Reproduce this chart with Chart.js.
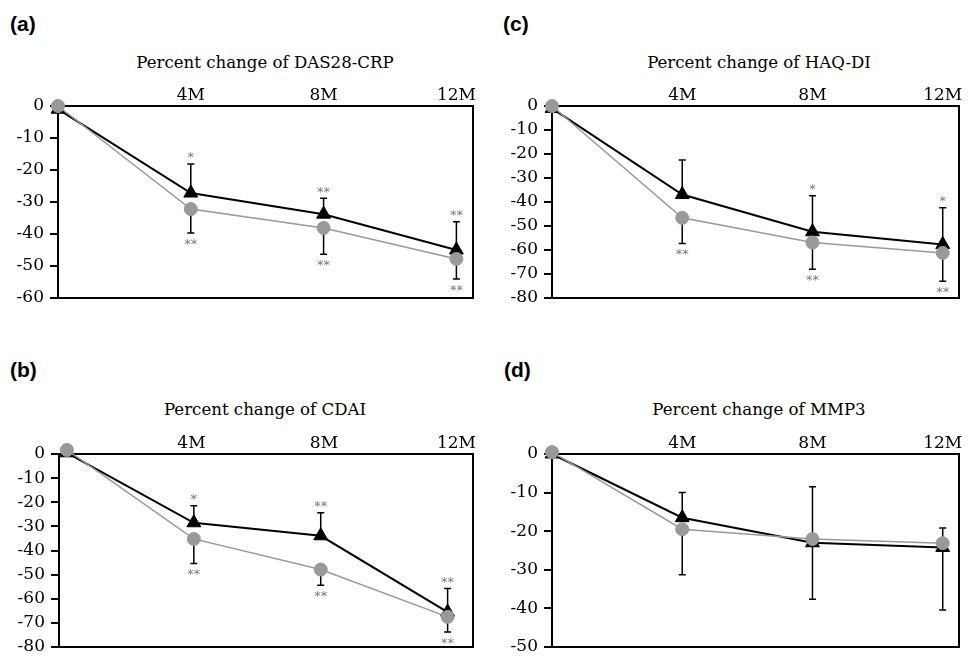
<!DOCTYPE html>
<html>
<head>
<meta charset="utf-8">
<script src="https://cdn.jsdelivr.net/npm/chart.js@4.4.1/dist/chart.umd.min.js"></script>
<style>
  html, body { margin: 0; padding: 0; background: #fff; }
  body { width: 968px; height: 656px; position: relative; overflow: hidden; }
  canvas { position: absolute; }
  .plabel { position: absolute; font-family: "Liberation Sans", Arial, sans-serif; font-weight: bold; font-size: 21px; line-height: 21px; color: #000; }
  .ptitle { position: absolute; width: 400px; text-align: center; font-family: "DejaVu Serif", serif; font-size: 16.6px; line-height: 20px; color: #000; white-space: nowrap; }
</style>
</head>
<body>
<div class="plabel" style="left:10px;top:13px;">(a)</div>
<div class="plabel" style="left:503px;top:13px;">(c)</div>
<div class="plabel" style="left:10px;top:359px;">(b)</div>
<div class="plabel" style="left:504px;top:359px;">(d)</div>
<div class="ptitle" style="left:65px;top:53px;">Percent change of DAS28-CRP</div>
<div class="ptitle" style="left:559px;top:53px;">Percent change of HAQ-DI</div>
<div class="ptitle" style="left:65px;top:400px;">Percent change of CDAI</div>
<div class="ptitle" style="left:559px;top:400px;">Percent change of MMP3</div>
<canvas id="ca" width="484" height="328" style="left:0;top:0;"></canvas>
<canvas id="cc" width="484" height="328" style="left:484px;top:0;"></canvas>
<canvas id="cb" width="484" height="328" style="left:0;top:328px;"></canvas>
<canvas id="cd" width="484" height="328" style="left:484px;top:328px;"></canvas>
<script>
// ---------- data ----------
const months = [0, 4, 8, 12];
const xTickValues = [4, 8, 12];
const xTickLabels = ['4M', '8M', '12M'];

// (a) DAS28-CRP
const dasBlack = [-1, -27.2, -33.8, -45.0];
const dasBlackSD = [0, 9.1, 5.0, 8.8];
const dasGrey = [0, -32.2, -38.1, -47.8];
const dasGreySD = [0, 7.5, 8.2, 6.3];
const dasBlackStars = ['', '*', '**', '**'];
const dasGreyStars = ['', '**', '**', '**'];
const dasYMin = -60;

// (b) CDAI
const cdaiBlack = [0.5, -28.5, -33.9, -65.5];
const cdaiBlackSD = [0, 7.0, 9.5, 9.7];
const cdaiGrey = [1.7, -35.2, -47.9, -67.5];
const cdaiGreySD = [0, 10.2, 6.5, 6.3];
const cdaiBlackStars = ['', '*', '**', '**'];
const cdaiGreyStars = ['', '**', '**', '**'];
const cdaiYMin = -80;

// (c) HAQ-DI
const haqBlack = [-1, -36.9, -52.4, -57.7];
const haqBlackSD = [0, 14.4, 15.0, 15.3];
const haqGrey = [0, -46.6, -56.9, -61.2];
const haqGreySD = [0, 10.7, 11.1, 11.8];
const haqBlackStars = ['', '', '*', '*'];
const haqGreyStars = ['', '**', '**', '**'];
const haqYMin = -80;

// (d) MMP3
const mmpBlack = [0, -16.5, -23.0, -24.2];
const mmpBlackSD = [0, 6.5, 14.5, 5.0];
const mmpGrey = [0.5, -19.5, -22.0, -23.1];
const mmpGreySD = [0, 11.8, 15.6, 17.3];
const mmpBlackStars = ['', '', '', ''];
const mmpGreyStars = ['', '', '', ''];
const mmpYMin = -50;

// ---------- styling ----------
const GREY = '#999999';
const STAR = '#777777';
const SERIF = '"DejaVu Serif", serif';

const boxErrPlugin = {
  id: 'boxErr',
  beforeDatasetsDraw(chart) {
    const ctx = chart.ctx, a = chart.chartArea;
    ctx.save();
    ctx.strokeStyle = '#000';
    ctx.lineWidth = 2;
    ctx.strokeRect(a.left, a.top, a.right - a.left, a.bottom - a.top);
    const xs = chart.scales.x, ys = chart.scales.y;
    ctx.lineWidth = 1.5;
    chart.data.datasets.forEach(ds => {
      ds.data.forEach((p, j) => {
        const sd = ds.sd[j];
        if (!sd) return;
        const x = xs.getPixelForValue(p.x);
        const y0 = ys.getPixelForValue(p.y);
        const y1 = ys.getPixelForValue(p.y + ds.dir * sd);
        ctx.beginPath();
        ctx.moveTo(x, y0); ctx.lineTo(x, y1);
        ctx.moveTo(x - 3.5, y1); ctx.lineTo(x + 3.5, y1);
        ctx.stroke();
      });
    });
    ctx.restore();
  },
  afterDatasetsDraw(chart) {
    const ctx = chart.ctx;
    const xs = chart.scales.x, ys = chart.scales.y;
    ctx.save();
    ctx.fillStyle = STAR;
    ctx.font = '13px "DejaVu Sans", sans-serif';
    ctx.textAlign = 'center';
    ctx.textBaseline = 'alphabetic';
    chart.data.datasets.forEach(ds => {
      ds.data.forEach((p, j) => {
        const s = ds.stars[j];
        if (!s) return;
        const x = xs.getPixelForValue(p.x);
        const yEnd = ys.getPixelForValue(p.y + ds.dir * (ds.sd[j] || 0));
        const yc = yEnd - ds.dir * 8.5;
        const m = ctx.measureText(s);
        ctx.fillText(s, x, yc + (m.actualBoundingBoxAscent - m.actualBoundingBoxDescent) / 2);
      });
    });
    ctx.restore();
  }
};

function pts(vals) { return months.map((m, i) => ({ x: m, y: vals[i] })); }

function makeChart(id, p) {
  return new Chart(document.getElementById(id), {
    type: 'line',
    data: {
      datasets: [
        {
          data: pts(p.grey), sd: p.greySD, stars: p.greyStars, dir: -1,
          borderColor: GREY, backgroundColor: GREY, borderWidth: 1.5,
          pointStyle: 'circle', pointRadius: 6.5, pointBorderWidth: 1,
          pointBorderColor: GREY, pointBackgroundColor: GREY,
          xAxisID: 'x', yAxisID: 'y', clip: false, tension: 0
        },
        {
          data: pts(p.black), sd: p.blackSD, stars: p.blackStars, dir: 1,
          borderColor: '#000', backgroundColor: '#000', borderWidth: 2,
          pointStyle: 'triangle', pointRadius: 8, pointBorderWidth: 1,
          pointBorderColor: '#000', pointBackgroundColor: '#000',
          xAxisID: 'x', yAxisID: 'y', clip: false, tension: 0
        }
      ]
    },
    options: {
      responsive: false,
      animation: false,
      events: [],
      layout: { padding: { left: 0, right: 484 - p.right, top: p.top - 20, bottom: 328 - p.bottom } },
      plugins: { legend: { display: false }, tooltip: { enabled: false }, title: { display: false } },
      scales: {
        x: { type: 'linear', display: false, min: p.xMin, max: p.xMax },
        xl: {
          type: 'linear', axis: 'x', position: 'top', min: 0, max: 12.5,
          afterBuildTicks: s => { s.ticks = xTickValues.map(v => ({ value: v })); },
          afterFit: s => { s.height = 20; s.paddingLeft = 0; s.paddingRight = 0; },
          grid: { display: false, drawTicks: false },
          border: { display: false },
          ticks: {
            padding: 0, color: '#000', maxRotation: 0, autoSkip: false,
            font: { family: SERIF, size: 17 },
            callback: (v, i) => xTickLabels[i]
          }
        },
        y: {
          type: 'linear', position: 'left', min: p.yMin, max: 0,
          afterFit: s => { s.width = p.left; s.paddingTop = 0; s.paddingBottom = 0; },
          grid: { drawOnChartArea: false, drawTicks: true, tickLength: 8, color: '#000', lineWidth: 2 },
          border: { display: false },
          ticks: { stepSize: 10, padding: 6, color: '#000', font: { family: SERIF, size: 17 } }
        }
      }
    },
    plugins: [boxErrPlugin]
  });
}

makeChart('ca', { black: dasBlack, blackSD: dasBlackSD, grey: dasGrey, greySD: dasGreySD,
  blackStars: dasBlackStars, greyStars: dasGreyStars, yMin: dasYMin, xMin: 0, xMax: 12.5,
  left: 58, right: 473, top: 106, bottom: 298 });
makeChart('cc', { black: haqBlack, blackSD: haqBlackSD, grey: haqGrey, greySD: haqGreySD,
  blackStars: haqBlackStars, greyStars: haqGreyStars, yMin: haqYMin, xMin: 0, xMax: 12.5,
  left: 68, right: 482, top: 106, bottom: 298 });
makeChart('cb', { black: cdaiBlack, blackSD: cdaiBlackSD, grey: cdaiGrey, greySD: cdaiGreySD,
  blackStars: cdaiBlackStars, greyStars: cdaiGreyStars, yMin: cdaiYMin, xMin: -0.25, xMax: 12.8,
  left: 59, right: 473, top: 126, bottom: 319 });
makeChart('cd', { black: mmpBlack, blackSD: mmpBlackSD, grey: mmpGrey, greySD: mmpGreySD,
  blackStars: mmpBlackStars, greyStars: mmpGreyStars, yMin: mmpYMin, xMin: 0, xMax: 12.5,
  left: 68, right: 482, top: 126, bottom: 319 });
</script>
</body>
</html>
